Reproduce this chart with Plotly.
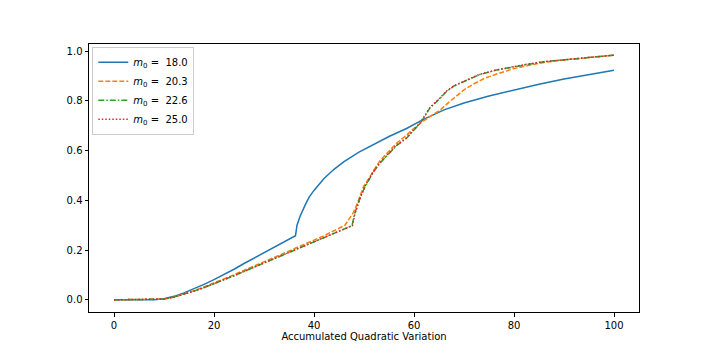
import plotly.graph_objects as go

# values
x_m18 = [0, 5, 8, 10, 12, 14, 16, 18, 20, 22, 24, 26, 28, 30, 32, 34, 36.3,
         36.6, 37.2, 38.2, 39, 40, 42, 44, 46, 49, 52, 55, 58.5, 62, 66, 70,
         75, 80, 85, 90, 95, 100]
y_m18 = [0, 0, 0, 0.004, 0.014, 0.028, 0.044, 0.062, 0.081, 0.101, 0.123, 0.146,
         0.168, 0.19, 0.212, 0.234, 0.258,
         0.30, 0.335, 0.38, 0.412, 0.44, 0.488, 0.525, 0.556, 0.594, 0.626, 0.657,
         0.689, 0.727, 0.764, 0.792, 0.82, 0.845, 0.867, 0.888, 0.906, 0.923]

x_m20 = [0, 5, 8, 10, 12, 14, 16, 18, 20, 22, 24, 26, 28, 30, 32, 34, 36, 38,
         40, 42, 44, 46.2, 47.9, 48.6, 49.9, 51.9, 53.2, 55.2, 56.5, 58.5, 59.7,
         61.9, 63.5, 65.2, 67, 68.5, 70, 71.9, 74, 76.5, 80, 83, 86, 90, 95, 100]
y_m20 = [0, 0, 0, 0.003, 0.011, 0.023, 0.037, 0.052, 0.067, 0.084, 0.101, 0.118,
         0.135, 0.152, 0.17, 0.187, 0.204, 0.222, 0.24, 0.258, 0.278, 0.30, 0.352,
         0.385, 0.455, 0.52, 0.56, 0.602, 0.63, 0.662, 0.685, 0.72, 0.74, 0.763,
         0.795, 0.82, 0.845, 0.868, 0.89, 0.908, 0.93, 0.943, 0.955, 0.965,
         0.976, 0.984]

x_m22 = [0, 5, 8, 10, 12, 14, 16, 18, 20, 22, 24, 26, 28, 30, 32, 34, 36, 38,
         40, 42, 44, 46, 47.6, 48.1, 48.6, 49.2, 50.2, 51.9, 53.2, 55.2, 56.5,
         58.5, 59.7, 61.2, 62.2, 63.2, 65.2, 66.5, 68, 70, 73, 76.5, 80, 83, 86,
         90, 95, 100]
y_m22 = [0, 0, 0, 0.003, 0.011, 0.022, 0.035, 0.049, 0.064, 0.08, 0.097, 0.114,
         0.131, 0.148, 0.165, 0.182, 0.199, 0.216, 0.233, 0.25, 0.267, 0.284, 0.298,
         0.345, 0.375, 0.41, 0.455, 0.515, 0.55, 0.595, 0.62, 0.65, 0.675, 0.709,
         0.74, 0.772, 0.81, 0.838, 0.86, 0.879, 0.905, 0.924, 0.938, 0.948,
         0.958, 0.966, 0.976, 0.984]

x_m25 = [0, 5, 8, 10, 12, 14, 16, 18, 20, 22, 24, 26, 28, 30, 32, 34, 36, 38,
         40, 42, 44, 46, 47.7, 48.2, 48.7, 49.3, 50.2, 51.9, 53.2, 55.2, 56.5,
         58.5, 59.7, 61.2, 62.2, 63.2, 65.2, 66.5, 68, 70, 73, 76.5, 80, 83, 86,
         90, 95, 100]
y_m25 = [0, 0, 0, 0.003, 0.011, 0.022, 0.035, 0.049, 0.064, 0.08, 0.097, 0.114,
         0.131, 0.148, 0.165, 0.182, 0.199, 0.216, 0.233, 0.25, 0.267, 0.284, 0.299,
         0.347, 0.377, 0.412, 0.457, 0.517, 0.552, 0.597, 0.622, 0.652, 0.677,
         0.711, 0.742, 0.774, 0.812, 0.84, 0.861, 0.88, 0.906, 0.925, 0.939,
         0.949, 0.958, 0.966, 0.976, 0.984]

labels = ['18.0', '20.3', '22.6', '25.0']

series = [
    (x_m18, y_m18, '#1f77b4', 'solid'),
    (x_m20, y_m20, '#ff7f0e', '5px,2px'),
    (x_m22, y_m22, '#2ca02c', '6px,2px,1.5px,2px'),
    (x_m25, y_m25, '#d62728', '1.5px,2px'),
]

fig = go.Figure()
for (xs, ys, color, dash), lab in zip(series, labels):
    fig.add_trace(go.Scatter(
        x=xs, y=ys, mode='lines',
        name=f'<i>m</i><sub>0</sub> =  {lab}',
        line=dict(color=color, width=1.5, dash=dash),
    ))

axis_common = dict(
    showgrid=False, zeroline=False, showline=True, linecolor='black',
    linewidth=1, mirror=True, ticks='outside', ticklen=3.5, tickcolor='black',
    tickfont=dict(family='DejaVu Sans', size=10, color='black'),
)

# the page body adds an 8px offset, so margins are shifted to compensate
fig.update_layout(
    width=711, height=356,
    margin=dict(l=81, r=80, t=36, b=52),
    plot_bgcolor='white', paper_bgcolor='white',
    font=dict(family='DejaVu Sans', size=10, color='black'),
    xaxis=dict(range=[-5, 105], tickvals=[0, 20, 40, 60, 80, 100],
               title=dict(text='Accumulated Quadratic Variation',
                          font=dict(size=10), standoff=0),
               **axis_common),
    yaxis=dict(range=[-0.049, 1.029], tickvals=[0, 0.2, 0.4, 0.6, 0.8, 1.0],
               tickformat='.1f', **axis_common),
    legend=dict(x=0.006, y=0.99, xanchor='left', yanchor='top',
                bgcolor='rgba(255,255,255,0.8)', bordercolor='#cccccc',
                borderwidth=1, font=dict(size=10), tracegroupgap=0,
                itemwidth=30),
    showlegend=True,
)

fig.write_html("out.html")
